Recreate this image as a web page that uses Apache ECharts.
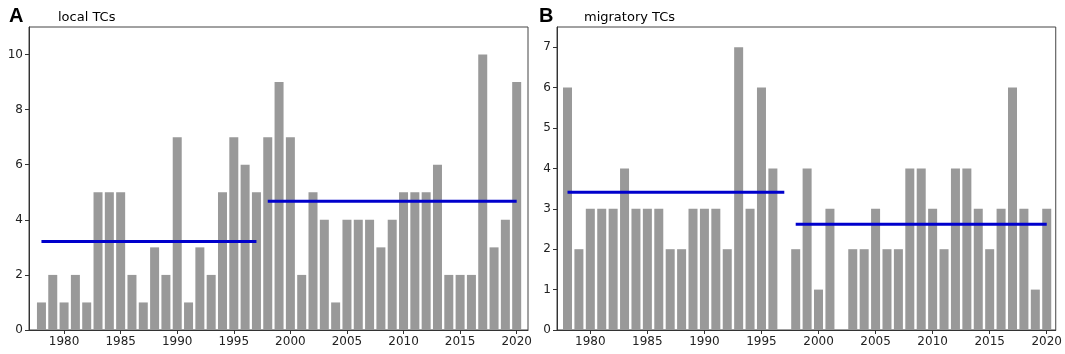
<!DOCTYPE html>
<html>
<head>
<meta charset="utf-8">
<script src="https://cdn.jsdelivr.net/npm/echarts@6/dist/echarts.min.js"></script>
<style>
  html, body { margin: 0; padding: 0; background: #fff; }
  #main { width: 1065px; height: 354px; }
</style>
</head>
<body>
<div id="main"></div>
<script>
var years = [];
for (var y = 1978; y <= 2020; y++) years.push(y);

var localTCs = [1, 2, 1, 2, 1, 5, 5, 5, 2, 1, 3, 2, 7, 1, 3, 2, 5, 7, 6, 5,
  7, 9, 7, 2, 5, 4, 1, 4, 4, 4, 3, 4, 5, 5, 5, 6, 2, 2, 2, 10, 3, 4, 9];
var migratoryTCs = [6, 2, 3, 3, 3, 4, 3, 3, 3, 2, 2, 3, 3, 3, 2, 7, 3, 6, 4, 0,
  2, 4, 1, 3, 0, 2, 2, 3, 2, 2, 4, 4, 3, 2, 4, 4, 3, 2, 3, 6, 3, 1, 3];

// period means drawn as blue lines: [startYear, endYear, value]
var localMeans = [[1978, 1997, 3.21], [1998, 2020, 4.67]];
var migratoryMeans = [[1978, 1997, 3.41], [1998, 2020, 2.62]];

var xTicks = [1980, 1985, 1990, 1995, 2000, 2005, 2010, 2015, 2020];
var localYTicks = [0, 2, 4, 6, 8, 10];
var migratoryYTicks = [0, 1, 2, 3, 4, 5, 6, 7];

var chart = echarts.init(document.getElementById('main'));

function pairs(vals) {
  return years.map(function (yr, i) { return [yr, vals[i]]; });
}

function meanSeries(means, idx) {
  return means.map(function (m) {
    return {
      type: 'line',
      xAxisIndex: idx, yAxisIndex: idx,
      data: [[m[0], m[2]], [m[1], m[2]]],
      symbol: 'none',
      lineStyle: { color: '#0000cc', width: 3 },
      z: 5
    };
  });
}

function xAxis(idx, min, max) {
  return {
    type: 'value', gridIndex: idx, min: min, max: max,
    splitLine: { show: false },
    axisLine: { show: true, lineStyle: { color: '#333' } },
    axisTick: { show: true, length: 4, lineStyle: { color: '#333' }, customValues: xTicks },
    axisLabel: {
      color: '#222', fontSize: 12, fontFamily: 'DejaVu Sans', margin: 6, customValues: xTicks,
      formatter: function (v) { return String(v); }
    }
  };
}

function yAxis(idx, max, ticks) {
  return {
    type: 'value', gridIndex: idx, min: 0, max: max,
    splitLine: { show: false },
    axisLine: { show: true, lineStyle: { color: '#333' } },
    axisTick: { show: true, length: 4, lineStyle: { color: '#333' }, customValues: ticks },
    axisLabel: { color: '#222', fontSize: 12, fontFamily: 'DejaVu Sans', margin: 6, customValues: ticks }
  };
}

var barStyle = { color: '#999999' };

var option = {
  animation: false,
  backgroundColor: '#fff',
  title: [
    { text: 'A', left: 4, top: 1, textStyle: { fontSize: 20, fontWeight: 'bold', color: '#000', fontFamily: 'Liberation Sans' } },
    { text: 'local TCs', left: 53, top: 6, textStyle: { fontSize: 13, fontWeight: 'normal', color: '#000', fontFamily: 'DejaVu Sans' } },
    { text: 'B', left: 534, top: 1, textStyle: { fontSize: 20, fontWeight: 'bold', color: '#000', fontFamily: 'Liberation Sans' } },
    { text: 'migratory TCs', left: 579, top: 6, textStyle: { fontSize: 13, fontWeight: 'normal', color: '#000', fontFamily: 'DejaVu Sans' } }
  ],
  grid: [
    { left: 29, top: 27, width: 499, height: 303, show: true, borderColor: '#444', borderWidth: 1, backgroundColor: '#fff' },
    { left: 557, top: 27, width: 499, height: 303, show: true, borderColor: '#444', borderWidth: 1, backgroundColor: '#fff' }
  ],
  xAxis: [xAxis(0, 1976.9, 2021.0), xAxis(1, 1977.08, 2020.79)],
  yAxis: [yAxis(0, 11, localYTicks), yAxis(1, 7.5, migratoryYTicks)],
  series: [
    { type: 'bar', xAxisIndex: 0, yAxisIndex: 0, data: pairs(localTCs), barWidth: 9, itemStyle: barStyle },
    { type: 'bar', xAxisIndex: 1, yAxisIndex: 1, data: pairs(migratoryTCs), barWidth: 9, itemStyle: barStyle }
  ].concat(meanSeries(localMeans, 0), meanSeries(migratoryMeans, 1))
};

chart.setOption(option);
</script>
</body>
</html>
